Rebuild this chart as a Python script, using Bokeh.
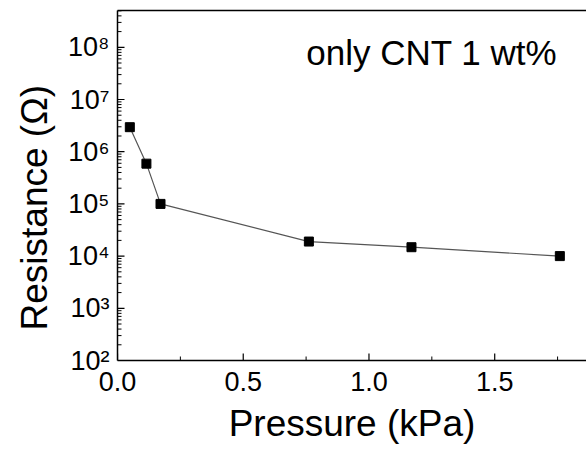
from bokeh.plotting import figure
from bokeh.models import (LinearAxis, FixedTicker, CustomJSTickFormatter,
                          Range1d, Label, Title)
from bokeh.embed import file_html
from bokeh.resources import INLINE

# data
pressure_kpa = [0.049, 0.115, 0.171, 0.761, 1.169, 1.759]
resistance_ohm = [2.95e6, 5.9e5, 1.0e5, 1.9e4, 1.48e4, 1.0e4]
x_ticks = [0.0, 0.5, 1.0, 1.5]
x_minor_ticks = [0.25, 0.75, 1.25, 1.75]
y_decades = [1e2, 1e3, 1e4, 1e5, 1e6, 1e7, 1e8]
y_minor_ticks = [k * d for d in y_decades for k in range(2, 10)]
annotation = "only CNT 1 wt%"
y_title = "Resistance (\u03a9)"
x_title = "Pressure (kPa)"

FONT = "Liberation Sans"
X_START, X_END = 0.0, 1.865
Y_START, Y_END = 1e2, 10 ** 8.705

p = figure(width=586, height=449, y_axis_type="log",
           x_range=Range1d(X_START, X_END), y_range=Range1d(Y_START, Y_END),
           output_backend="svg", toolbar_location=None,
           min_border_left=117, min_border_right=0, min_border_top=10,
           min_border_bottom=89)
p.outline_line_color = None
p.grid.visible = False
p.background_fill_color = "white"
p.border_fill_color = "white"

p.line(pressure_kpa, resistance_ohm, line_color="#555555", line_width=1.2)
p.scatter(pressure_kpa, resistance_ohm, marker="square", size=9,
          fill_color="black", line_color="black")

# inward tick marks (drawn at the axis tick positions)
p.ray(x=x_ticks, y=[Y_START] * len(x_ticks), length=7, length_units="screen",
      angle=90, angle_units="deg", line_color="black", line_width=1.2)
p.ray(x=x_minor_ticks, y=[Y_START] * len(x_minor_ticks), length=4,
      length_units="screen", angle=90, angle_units="deg",
      line_color="black", line_width=1)
p.ray(x=[X_START] * len(y_decades), y=y_decades, length=7, length_units="screen",
      angle=0, angle_units="deg", line_color="black", line_width=1.2)
p.ray(x=[X_START] * len(y_minor_ticks), y=y_minor_ticks, length=4,
      length_units="screen", angle=0, angle_units="deg",
      line_color="black", line_width=1)

xa = p.xaxis[0]
xa.ticker = FixedTicker(ticks=x_ticks, minor_ticks=x_minor_ticks)
xa.formatter = CustomJSTickFormatter(code="return tick.toFixed(1);")
xa.axis_label = x_title

ya = p.yaxis[0]
ya.ticker = FixedTicker(ticks=y_decades, minor_ticks=y_minor_ticks)
ya.formatter = CustomJSTickFormatter(code="""
const sup = {'0':'\u2070','1':'\u00b9','2':'\u00b2','3':'\u00b3','4':'\u2074',
             '5':'\u2075','6':'\u2076','7':'\u2077','8':'\u2078','9':'\u2079','-':'\u207b'};
const e = Math.round(Math.log10(tick));
return '10' + String(e).split('').map(c => sup[c]).join('');
""")

for ax in (xa, ya):
    ax.axis_line_color = "black"
    ax.axis_line_width = 1.5
    ax.major_tick_in = 0
    ax.major_tick_out = 0
    ax.minor_tick_in = 0
    ax.minor_tick_out = 0
    ax.major_label_text_font = FONT
    ax.major_label_text_font_size = "27px"
    ax.major_label_text_color = "black"
    ax.axis_label_text_font = FONT
    ax.axis_label_text_font_size = "37px"
    ax.axis_label_text_font_style = "normal"
    ax.axis_label_text_color = "black"

xa.major_label_standoff = 11
xa.axis_label_standoff = 9
ya.major_label_standoff = 8

top = LinearAxis(ticker=FixedTicker(ticks=[]), axis_line_color="black",
                 axis_line_width=1.5, major_label_text_font_size="0px",
                 major_tick_in=0, major_tick_out=0, minor_tick_in=0, minor_tick_out=0)
p.add_layout(top, "above")

# y-axis title, placed a little below the frame centre as in the reference
p.add_layout(Title(text=y_title, align="left", offset=30, standoff=19,
                   text_font=FONT, text_font_size="37px",
                   text_font_style="normal", text_color="black"), "left")

p.add_layout(Label(x=0.751, y=7.9e7, text=annotation, text_font=FONT,
                   text_font_size="35px", text_color="black",
                   text_baseline="alphabetic"))

open("out.html", "w").write(file_html(p, INLINE))
